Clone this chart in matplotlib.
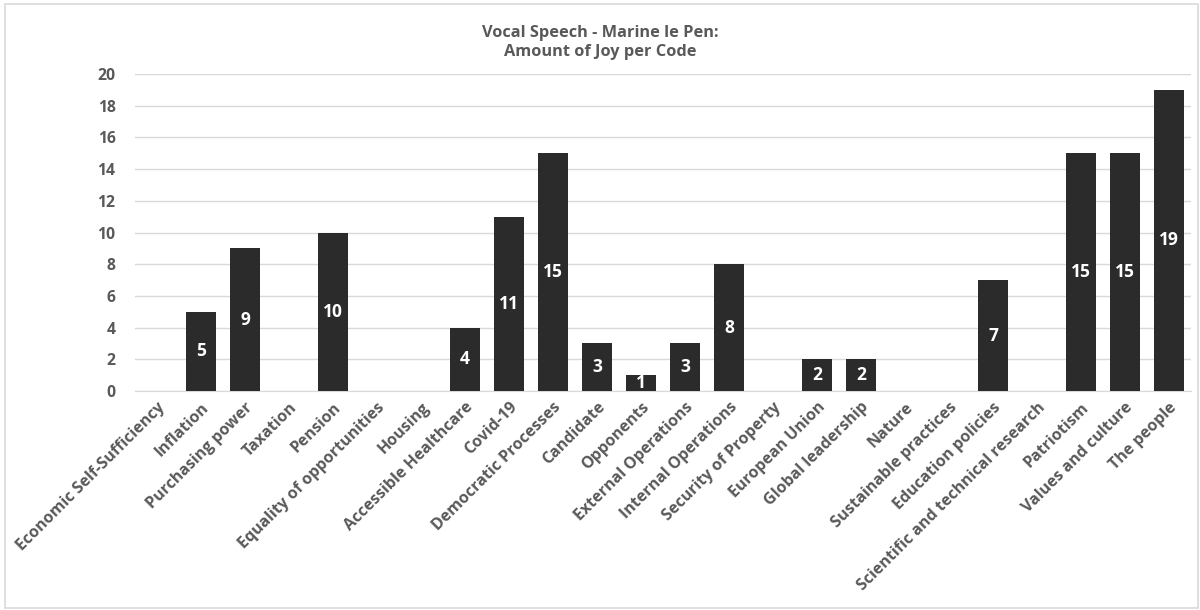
import matplotlib
matplotlib.use('Agg')
import matplotlib.pyplot as plt
from matplotlib.patches import Rectangle

codes = ['Economic Self-Sufficiency', 'Inflation', 'Purchasing power', 'Taxation',
         'Pension', 'Equality of opportunities', 'Housing', 'Accessible Healthcare',
         'Covid-19', 'Democratic Processes', 'Candidate', 'Opponents',
         'External Operations', 'Internal Operations', 'Security of Property',
         'European Union', 'Global leadership', 'Nature', 'Sustainable practices',
         'Education policies', 'Scientific and technical research', 'Patriotism',
         'Values and culture', 'The people']
joy = [0, 5, 9, 0, 10, 0, 0, 4, 11, 15, 3, 1, 3, 8, 0, 2, 2, 0, 0, 7, 0, 15, 15, 19]

plt.rcParams['font.family'] = ['Open Sans', 'DejaVu Sans']
grey = '#595959'

fig = plt.figure(figsize=(12, 6.1), dpi=100)
# thin frame round the whole figure
fig.patches.append(Rectangle((0.004, 0.003), 0.994, 0.991, transform=fig.transFigure,
                             fill=False, edgecolor='#d9d9d9', linewidth=1.2))
ax = fig.add_axes([0.1125, 0.359, 0.88, 0.5197])

x = range(len(codes))
bars = ax.bar(x, joy, width=0.7, color='#2b2b2b', zorder=3)
for b, v in zip(bars, joy):
    if v > 0:
        ax.text(b.get_x() + b.get_width() / 2, v / 2, str(v), ha='center', va='center',
                color='white', fontsize=12.5, fontweight='bold', zorder=4)

ax.set_xlim(-0.5, len(codes) - 0.5)
ax.set_ylim(0, 20)
ax.set_yticks(range(0, 21, 2))
ax.yaxis.grid(True, color='#d9d9d9', linewidth=1)
ax.set_axisbelow(True)
for s in ['top', 'right', 'left']:
    ax.spines[s].set_visible(False)
ax.spines['bottom'].set_color('#d9d9d9')
ax.tick_params(axis='x', length=0, colors=grey, labelsize=11.5, pad=6)
ax.tick_params(axis='y', length=0, colors=grey, labelsize=11.3, pad=14)
ax.set_xticks(list(x))
ax.set_xticklabels(codes, rotation=45, ha='right', rotation_mode='anchor', fontweight='bold')
for t in ax.get_yticklabels():
    t.set_fontweight('bold')

fig.text(0.5, 0.93, 'Vocal Speech - Marine le Pen:\nAmount of Joy per Code', ha='center',
         va='center', fontsize=11.8, fontweight='bold', color=grey, linespacing=1.2)

fig.savefig('out.png', dpi=100)
